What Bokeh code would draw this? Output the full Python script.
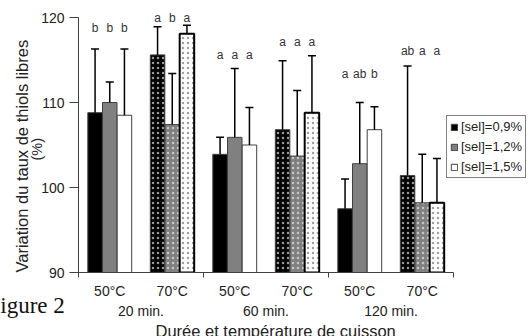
from bokeh.plotting import figure
from bokeh.models import (ColumnDataSource, Range1d, FixedTicker, LinearAxis,
                          Whisker, TeeHead, Legend, LegendItem, Title)
from bokeh.core.properties import value
from bokeh.embed import file_html
from bokeh.resources import INLINE

# ---------------- data ----------------
temps = ["50°C", "70°C", "50°C", "70°C", "50°C", "70°C"]
durations = ["20 min.", "60 min.", "120 min."]
series_names = ["[sel]=0,9%", "[sel]=1,2%", "[sel]=1,5%"]

sel_09 = [108.8, 115.6, 103.9, 106.8, 97.5, 101.4]
sel_12 = [110.0, 107.4, 105.9, 103.7, 102.8, 98.2]
sel_15 = [108.5, 118.1, 105.0, 108.8, 106.8, 98.2]

err_09 = [7.5, 3.3, 2.0, 8.1, 3.5, 12.9]
err_12 = [2.4, 6.0, 8.1, 7.7, 7.2, 5.7]
err_15 = [7.8, 1.0, 4.4, 6.7, 2.7, 5.2]

letters_09 = ["b", "a", "a", "a", "a", "ab"]
letters_12 = ["b", "b", "a", "a", "ab", "a"]
letters_15 = ["b", "a", "a", "a", "b", "a"]
letter_level = [118.8, 120.0, 115.6, 117.1, 113.4, 116.1]

y_ticks = [90, 100, 110, 120]

# ---------------- styles ----------------
FONT = "Liberation Sans"
TXT = "#222222"
fills = ["#000000", "#808080", "#ffffff"]
hatch_colors = ["#9a9a9a", "#c6c6c6", "#a0a0a0"]
offsets = [-0.235, 0.0, 0.235]
bar_w = 0.232

p = figure(frame_width=450, frame_height=272,
           min_border_left=78, min_border_right=0,
           min_border_top=0, min_border_bottom=64,
           x_range=Range1d(0, 7.2), y_range=Range1d(90, 122),
           output_backend="svg", toolbar_location=None)
p.xgrid.visible = False
p.ygrid.visible = False
p.outline_line_color = None
p.background_fill_color = "white"
p.border_fill_color = "white"

# y axis
ya = p.yaxis[0]
ya.ticker = FixedTicker(ticks=y_ticks, minor_ticks=[])
ya.bounds = (y_ticks[0], y_ticks[-1])
ya.axis_line_color = "#404040"
ya.major_tick_line_color = "#404040"
ya.major_tick_out = 9
ya.major_tick_in = 0
ya.minor_tick_line_color = None
ya.minor_tick_out = 0
ya.major_label_standoff = 5
ya.major_label_text_font = FONT
ya.major_label_text_font_size = "14px"
ya.major_label_text_color = TXT

# x axis (temperatures) with group boundary ticks
centers = [i + 0.5 for i in range(len(temps))]
xa = p.xaxis[0]
xa.ticker = FixedTicker(ticks=centers, minor_ticks=[0, 2, 4, 6])
xa.bounds = (0, 6)
xa.major_label_overrides = {c: t for c, t in zip(centers, temps)}
xa.axis_line_color = "#404040"
xa.major_tick_line_color = None
xa.major_tick_out = 0
xa.major_tick_in = 0
xa.minor_tick_line_color = "#404040"
xa.minor_tick_out = 5
xa.minor_tick_in = 0
xa.major_label_standoff = 5
xa.major_label_text_font = FONT
xa.major_label_text_font_size = "14px"
xa.major_label_text_color = TXT

# caption (sits between the two x-axis rows, takes almost no room)
caption = Title(text="Figure 2", align="left", offset=-91, standoff=-22,
                text_font="Liberation Serif", text_font_size="23px",
                text_font_style="normal", text_color="#111111")
p.add_layout(caption, "below")

# second x axis (durations)
gcenters = [1, 3, 5]
xa2 = LinearAxis(ticker=FixedTicker(ticks=gcenters, minor_ticks=[]))
xa2.major_label_overrides = {c: d for c, d in zip(gcenters, durations)}
xa2.axis_line_color = None
xa2.major_tick_line_color = None
xa2.minor_tick_line_color = None
xa2.major_tick_out = 0
xa2.major_tick_in = 0
xa2.minor_tick_out = 0
xa2.major_label_standoff = -4
xa2.major_label_text_font = FONT
xa2.major_label_text_font_size = "14px"
xa2.major_label_text_color = TXT
p.add_layout(xa2, "below")

xtitle = Title(text="Durée et température de cuisson", align="left",
               offset=77, standoff=-3, text_font=FONT,
               text_font_size="16.5px", text_font_style="normal",
               text_color=TXT)
p.add_layout(xtitle, "below")

# y titles
t_pct = Title(text="(%)", align="left", offset=112, standoff=-12,
              text_font=FONT, text_font_size="14.5px",
              text_font_style="normal", text_color=TXT)
p.add_layout(t_pct, "left")
t_var = Title(text="Variation du taux de thiols libres", align="left",
              offset=0, standoff=4, text_font=FONT, text_font_size="16.5px",
              text_font_style="normal", text_color=TXT)
p.add_layout(t_var, "left")

# ---------------- bars ----------------
values = [sel_09, sel_12, sel_15]
errors = [err_09, err_12, err_15]
letters = [letters_09, letters_12, letters_15]
renderers = []
for k in range(3):
    xs = [c + offsets[k] for c in centers]
    is70 = [t == "70°C" for t in temps]
    src = ColumnDataSource(dict(
        x=xs, top=values[k],
        upper=[v + e for v, e in zip(values[k], errors[k])],
        hatch=["." if h else " " for h in is70],
        lw=[2.0 if (h and k == 2) else 1.0 for h in is70],
        lc=["#000000" if (h and k == 2) else "#404040" for h in is70],
        letter=letters[k], ly=letter_level,
    ))
    r = p.vbar(x="x", top="top", bottom=y_ticks[0], width=bar_w, source=src,
               fill_color=fills[k], line_color="lc", line_width="lw",
               hatch_pattern="hatch", hatch_color=hatch_colors[k],
               hatch_scale=5, hatch_weight=0.5)
    renderers.append(r)
    w = Whisker(source=src, base="x", lower="top", upper="upper",
                dimension="height", line_color="black", line_width=1.5,
                upper_head=TeeHead(size=8, line_color="black", line_width=1.5),
                lower_head=None, level="overlay")
    p.add_layout(w)
    p.text(x="x", y="ly", text="letter", source=src, text_align="center",
           text_baseline="middle", text_font=value(FONT),
           text_font_size="12px", text_color="#333333")

# ---------------- legend ----------------
legend = Legend(items=[LegendItem(label=n, renderers=[r])
                       for n, r in zip(series_names, renderers)],
                location=(368, 94))
legend.border_line_color = "black"
legend.border_line_width = 1
legend.background_fill_color = "white"
legend.background_fill_alpha = 1
legend.glyph_width = 8
legend.glyph_height = 8
legend.label_text_font = FONT
legend.label_text_font_size = "13px"
legend.label_text_color = TXT
legend.label_standoff = 3
legend.label_height = 15
legend.spacing = 5
legend.padding = 3
legend.margin = 0
p.add_layout(legend)

open("out.html", "w").write(file_html(p, INLINE))
